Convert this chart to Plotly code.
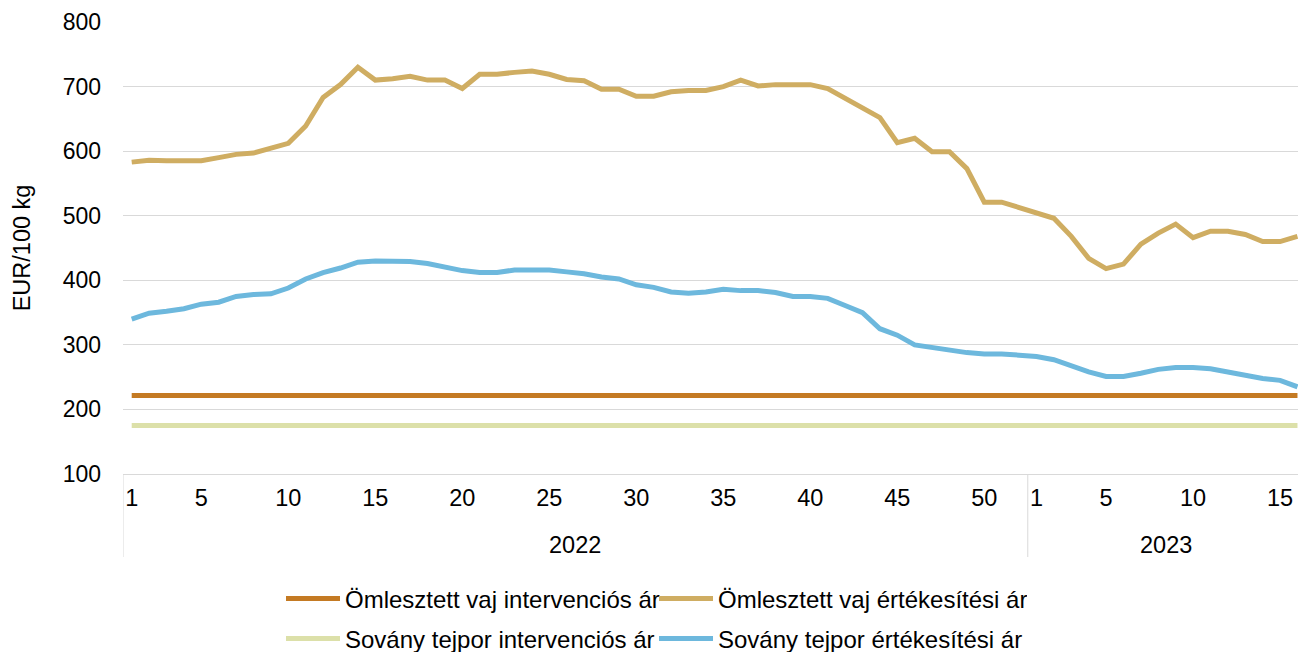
import plotly.graph_objects as go

years = ["2022", "2023"]
weeks_2022 = list(range(1, 53))
weeks_2023 = list(range(1, 17))
tick_weeks_2022 = [1, 5, 10, 15, 20, 25, 30, 35, 40, 45, 50]
tick_weeks_2023 = [1, 5, 10, 15]

vaj_ertekesitesi = [
    583, 586, 585, 585, 585, 590, 595, 597, 604, 612, 639, 683, 703, 730, 710, 712,
    716, 710, 710, 697, 719, 719, 722, 724, 719, 711, 709, 696, 696, 685, 685, 692,
    694, 694, 700, 710, 701, 703, 703, 703, 697, 682, 668, 652, 613, 620, 599, 599,
    573, 521, 521, 512,
    503, 496, 468, 434, 418, 425, 456, 473, 487, 466, 476, 476, 471, 460, 460, 468,
]
tejpor_ertekesitesi = [
    340, 349, 352, 356, 363, 366, 375, 378, 379, 388, 402, 412, 419, 428, 430, 429,
    429, 426, 420, 415, 412, 412, 416, 416, 416, 413, 410, 405, 402, 393, 389, 382,
    380, 382, 386, 384, 384, 381, 375, 375, 372, 361, 350, 325, 315, 300, 296, 292,
    288, 286, 286, 284,
    282, 277, 267, 258, 251, 251, 256, 262, 265, 265, 263, 258, 254, 248, 245, 235,
]
vaj_intervencios = 221.75
tejpor_intervencios = 175.0

n = len(weeks_2022) + len(weeks_2023)
xs = list(range(n))

tickvals = [w - 1 for w in tick_weeks_2022] + [len(weeks_2022) + w - 1 for w in tick_weeks_2023]
ticktext = [str(w) for w in tick_weeks_2022] + [str(w) for w in tick_weeks_2023]

FONT = "Arial, Liberation Sans, sans-serif"
FS = 23.5
fig = go.Figure()

fig.add_trace(go.Scatter(x=xs, y=[vaj_intervencios] * n, mode="lines",
                         name="Ömlesztett vaj intervenciós ár",
                         line=dict(color="#C47A23", width=5), legend="legend"))
fig.add_trace(go.Scatter(x=xs, y=vaj_ertekesitesi, mode="lines",
                         name="Ömlesztett vaj értékesítési ár",
                         line=dict(color="#CFAD62", width=5), legend="legend"))
fig.add_trace(go.Scatter(x=xs, y=[tejpor_intervencios] * n, mode="lines",
                         name="Sovány tejpor intervenciós ár",
                         line=dict(color="#DCE0A9", width=5), legend="legend2"))
fig.add_trace(go.Scatter(x=xs, y=tejpor_ertekesitesi, mode="lines",
                         name="Sovány tejpor értékesítési ár",
                         line=dict(color="#6DB8DD", width=5), legend="legend2"))

plot_h = 652 - 22 - 178
x_end = 67.03

# year labels
n22 = len(weeks_2022)
fig.add_annotation(x=(n22 - 1) / 2, y=-(545 - 474) / plot_h, xref="x", yref="paper",
                   text=years[0], showarrow=False, yanchor="middle",
                   font=dict(family=FONT, size=FS, color="#000000"))
fig.add_annotation(x=n22 - 0.5 + (x_end + 0.5 - n22) / 2 + 0.2, y=-(545 - 474) / plot_h,
                   xref="x", yref="paper", text=years[1], showarrow=False,
                   yanchor="middle", font=dict(family=FONT, size=FS, color="#000000"))
for xb in [-0.5, n22 - 0.5]:
    fig.add_shape(type="line", xref="x", yref="paper", x0=xb, x1=xb, y0=0,
                  y1=-(557 - 474) / plot_h, line=dict(color="#D9D9D9", width=1))

legend_common = dict(orientation="h", font=dict(family=FONT, size=24, color="#000000"),
                     bgcolor="rgba(0,0,0,0)", xanchor="left", yanchor="middle",
                     itemwidth=54, entrywidth=304, entrywidthmode="pixels",
                     tracegroupgap=0, itemclick=False)

fig.update_layout(
    width=1298, height=652,
    margin=dict(l=123, r=0, t=22, b=178, autoexpand=False),
    plot_bgcolor="white", paper_bgcolor="white",
    font=dict(family=FONT, size=FS, color="#000000"),
    showlegend=True,
    legend=dict(x=(281 - 123) / 1175, y=-(599 - 474) / plot_h, **legend_common),
    legend2=dict(x=(281 - 123) / 1175, y=-(639 - 474) / plot_h, **legend_common),
    xaxis=dict(range=[-0.5, x_end], tickmode="array", tickvals=tickvals, ticktext=ticktext,
               showgrid=False, zeroline=False, showline=True, linecolor="#D9D9D9",
               linewidth=1, ticks="", ticklabelstandoff=3, automargin=False,
               tickfont=dict(family=FONT, size=FS, color="#000000")),
    yaxis=dict(range=[100, 800], tickvals=[100, 200, 300, 400, 500, 600, 700, 800],
               showgrid=True, gridcolor="#D9D9D9", gridwidth=1, zeroline=False,
               ticks="", ticklabelstandoff=21, automargin=False,
               tickfont=dict(family=FONT, size=23, color="#000000"),
               title=dict(text="EUR/100 kg", standoff=25,
                          font=dict(family=FONT, size=FS, color="#000000"))),
)

fig.write_html("out.html", config={"displayModeBar": False},
               post_script="document.body.style.margin='0';")
